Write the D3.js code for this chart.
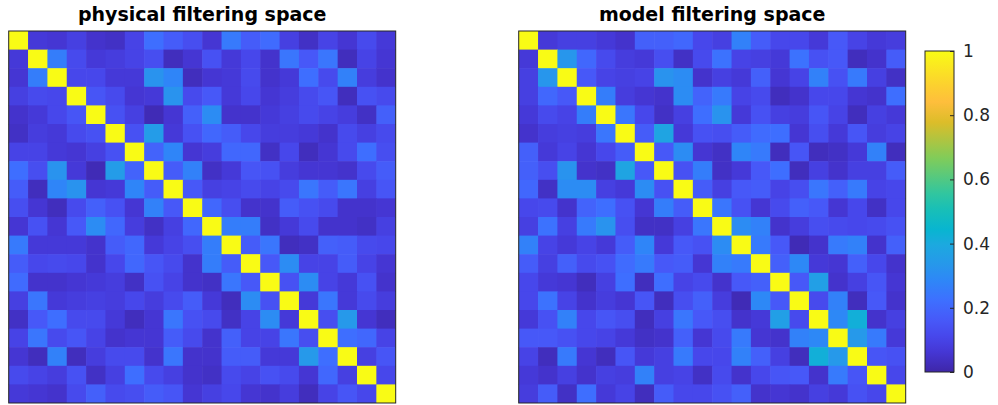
<!DOCTYPE html>
<html>
<head>
<meta charset="utf-8">
<script src="https://cdn.jsdelivr.net/npm/d3@7"></script>
<style>
  body { margin: 0; background: #fff; }
  text { font-family: 'DejaVu Sans', sans-serif; }
</style>
</head>
<body>
<div id="chart"></div>
<script>
/** Data: similarity matrices */
const physical = [
  [1, .07, .06, .09, .05, .04, .10, .22, .17, .13, .06, .25, .17, .21, .09, .04, .10, .06, .12, .07],
  [.07, 1, .26, .12, .07, .08, .10, .13, .03, .06, .14, .07, .11, .05, .24, .16, .24, .03, .10, .06],
  [.06, .26, 1, .11, .11, .07, .07, .32, .28, .03, .06, .07, .12, .05, .07, .22, .12, .27, .08, .05],
  [.09, .12, .11, 1, .15, .12, .06, .07, .32, .12, .16, .07, .11, .06, .08, .12, .15, .03, .14, .12],
  [.05, .07, .11, .15, 1, .14, .09, .02, .06, .18, .30, .05, .05, .07, .09, .12, .10, .08, .04, .18],
  [.04, .08, .07, .12, .14, 1, .14, .35, .07, .14, .20, .17, .11, .08, .08, .07, .05, .12, .09, .12],
  [.10, .10, .07, .06, .09, .14, 1, .19, .28, .06, .08, .20, .20, .04, .11, .03, .06, .12, .22, .13],
  [.22, .13, .32, .07, .02, .35, .19, 1, .17, .27, .04, .07, .15, .14, .08, .06, .06, .05, .12, .17],
  [.17, .03, .28, .32, .06, .07, .28, .17, 1, .16, .09, .10, .12, .10, .12, .24, .17, .24, .09, .15],
  [.13, .06, .03, .12, .18, .14, .06, .27, .16, 1, .20, .13, .05, .05, .17, .14, .12, .05, .05, .06],
  [.06, .14, .06, .16, .30, .20, .08, .04, .09, .20, 1, .26, .26, .04, .07, .12, .05, .05, .04, .09],
  [.25, .07, .07, .07, .05, .17, .20, .07, .10, .13, .26, 1, .17, .24, .03, .04, .18, .17, .12, .11],
  [.17, .11, .12, .11, .05, .11, .20, .15, .12, .05, .26, .17, 1, .16, .30, .10, .10, .17, .10, .06],
  [.21, .05, .05, .06, .07, .08, .04, .14, .10, .05, .04, .24, .16, 1, .14, .30, .10, .07, .14, .05],
  [.09, .24, .07, .08, .09, .08, .11, .08, .12, .17, .07, .03, .30, .14, 1, .07, .24, .07, .12, .08],
  [.04, .16, .22, .12, .12, .07, .03, .06, .24, .14, .12, .04, .10, .30, .07, 1, .13, .34, .06, .03],
  [.10, .24, .12, .15, .10, .05, .06, .06, .17, .12, .05, .18, .10, .10, .24, .13, 1, .22, .20, .10],
  [.06, .03, .27, .03, .08, .12, .12, .05, .24, .05, .05, .17, .17, .07, .07, .34, .22, 1, .09, .15],
  [.12, .10, .08, .14, .04, .09, .22, .12, .09, .05, .04, .12, .10, .14, .12, .06, .20, .09, 1, .11],
  [.07, .06, .05, .12, .18, .12, .13, .17, .15, .06, .09, .11, .06, .05, .08, .03, .10, .15, .11, 1]
];

const model = [
  [1, .07, .09, .09, .07, .05, .18, .18, .20, .11, .09, .27, .17, .11, .11, .07, .16, .10, .07, .08],
  [.07, 1, .33, .20, .12, .08, .07, .13, .04, .12, .23, .10, .09, .07, .23, .14, .16, .03, .05, .17],
  [.09, .33, 1, .16, .10, .09, .10, .32, .30, .05, .09, .07, .18, .06, .10, .27, .14, .25, .09, .04],
  [.09, .20, .16, 1, .26, .08, .06, .05, .30, .19, .25, .10, .12, .03, .05, .11, .11, .06, .05, .22],
  [.07, .12, .10, .26, 1, .24, .11, .04, .09, .22, .32, .07, .14, .09, .08, .15, .10, .03, .09, .07],
  [.05, .08, .09, .08, .24, 1, .17, .38, .07, .14, .13, .17, .21, .22, .06, .13, .07, .15, .08, .10],
  [.18, .07, .10, .06, .11, .17, 1, .16, .30, .06, .04, .28, .25, .03, .15, .03, .04, .07, .27, .03],
  [.18, .13, .32, .05, .04, .38, .16, 1, .14, .26, .04, .07, .16, .22, .03, .09, .05, .09, .09, .17],
  [.20, .04, .30, .30, .09, .07, .30, .14, 1, .17, .09, .16, .17, .10, .13, .24, .18, .25, .10, .11],
  [.11, .12, .05, .19, .22, .14, .06, .26, .17, 1, .24, .14, .06, .12, .18, .16, .06, .11, .04, .11],
  [.09, .23, .09, .25, .32, .13, .04, .04, .09, .24, 1, .30, .27, .05, .08, .13, .12, .11, .12, .14],
  [.27, .10, .07, .10, .07, .17, .28, .07, .16, .14, .30, 1, .25, .16, .02, .05, .25, .27, .05, .18],
  [.17, .09, .18, .12, .14, .21, .25, .16, .17, .06, .27, .25, 1, .18, .29, .07, .06, .18, .11, .05],
  [.11, .07, .06, .03, .09, .22, .03, .22, .10, .12, .05, .16, .18, 1, .16, .36, .05, .09, .15, .06],
  [.11, .23, .10, .05, .08, .06, .15, .03, .13, .18, .08, .02, .29, .16, 1, .12, .27, .03, .16, .05],
  [.07, .14, .27, .11, .15, .13, .03, .09, .24, .16, .13, .05, .07, .36, .12, 1, .29, .42, .05, .09],
  [.16, .16, .14, .11, .10, .07, .04, .05, .18, .06, .12, .25, .06, .05, .27, .29, 1, .34, .25, .07],
  [.10, .03, .25, .06, .03, .15, .07, .09, .25, .11, .11, .27, .18, .09, .03, .42, .34, 1, .15, .14],
  [.07, .05, .09, .05, .09, .08, .27, .09, .10, .04, .12, .05, .11, .15, .16, .05, .25, .15, 1, .11],
  [.08, .17, .04, .22, .07, .10, .03, .17, .11, .11, .14, .18, .05, .06, .05, .09, .07, .14, .11, 1]
];

const titles = ['physical filtering space', 'model filtering space'];
const colorTicks = [0, 0.2, 0.4, 0.6, 0.8, 1];

// parula colormap (sampled)
const parulaPos = [0, 0.063, 0.111, 0.159, 0.222, 0.286, 0.333, 0.397, 0.444, 0.508, 0.556, 0.667, 0.778, 0.841, 0.889, 1];
const parulaHex = ['#3e26a8', '#4537d5', '#4747eb', '#4758f8', '#3e6fff', '#2e87f7', '#2797eb', '#1ca9df',
  '#08b5d0', '#19bfb6', '#31c69f', '#81cc59', '#dcbd29', '#febe3c', '#fccf30', '#f9fb15'];

const width = 998;
const height = 405;
const plotTop = 31;
const plotW = 387;
const plotH = 372;
const lefts = [8.7, 518.7];
const axisColor = '#262626';

const color = d3.scaleLinear()
  .domain(parulaPos)
  .range(parulaHex)
  .clamp(true);

const svg = d3.select('#chart')
  .append('svg')
    .attr('width', width)
    .attr('height', height);

function heatmap(data, title, left) {
  const n = data.length;
  const x = d3.scaleBand().domain(d3.range(n)).range([left, left + plotW]);
  const y = d3.scaleBand().domain(d3.range(n)).range([plotTop, plotTop + plotH]);

  const cells = data.flatMap((row, i) => row.map((v, j) => ({ i, j, v })));
  const g = svg.append('g');

  g.selectAll('rect')
    .data(cells)
    .enter()
      .append('rect')
      .attr('x', d => x(d.j))
      .attr('y', d => y(d.i))
      .attr('width', d => x.bandwidth() + (d.j < n - 1 ? 0.6 : 0))
      .attr('height', d => y.bandwidth() + (d.i < n - 1 ? 0.6 : 0))
      .attr('fill', d => color(d.v));

  g.append('rect')
    .attr('x', left)
    .attr('y', plotTop)
    .attr('width', plotW)
    .attr('height', plotH)
    .attr('fill', 'none')
    .attr('stroke', axisColor)
    .attr('stroke-width', 1);

  g.append('text')
    .attr('x', left + plotW / 2)
    .attr('y', 20.5)
    .attr('text-anchor', 'middle')
    .attr('font-size', '19px')
    .attr('font-weight', 'bold')
    .attr('fill', '#000')
    .text(title);
}

heatmap(physical, titles[0], lefts[0]);
heatmap(model, titles[1], lefts[1]);

/** Colorbar */
const cb = { x: 925, y: 51, w: 29, h: 321 };
const cy = d3.scaleLinear().domain([0, 1]).range([cb.y + cb.h, cb.y]);

const grad = svg.append('defs')
  .append('linearGradient')
    .attr('id', 'parula')
    .attr('x1', 0).attr('y1', 1)
    .attr('x2', 0).attr('y2', 0);

grad.selectAll('stop')
  .data(parulaPos)
  .enter()
    .append('stop')
    .attr('offset', d => d)
    .attr('stop-color', (d, i) => parulaHex[i]);

svg.append('rect')
  .attr('x', cb.x)
  .attr('y', cb.y)
  .attr('width', cb.w)
  .attr('height', cb.h)
  .attr('fill', 'url(#parula)')
  .attr('stroke', axisColor)
  .attr('stroke-width', 1);

const cAxis = d3.axisRight(cy)
  .tickValues(colorTicks)
  .tickFormat(d3.format('~g'))
  .tickSizeInner(-4)
  .tickSizeOuter(0)
  .tickPadding(9);

const cg = svg.append('g')
  .attr('transform', `translate(${cb.x + cb.w},0)`)
  .call(cAxis);

cg.select('.domain').remove();
cg.selectAll('.tick line').attr('stroke', axisColor);
cg.selectAll('.tick text')
  .attr('fill', axisColor)
  .attr('font-size', '17px')
  .attr('font-family', "'DejaVu Sans', sans-serif");
</script>
</body>
</html>
